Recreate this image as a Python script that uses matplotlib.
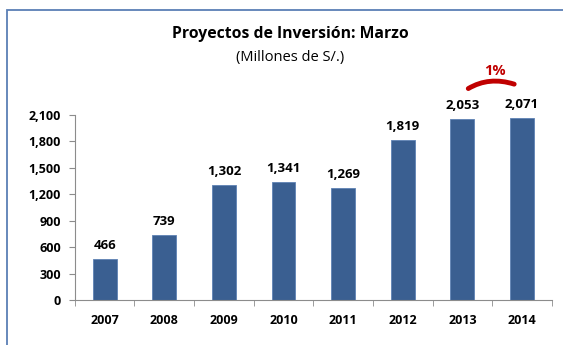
import matplotlib.pyplot as plt
from matplotlib.patches import Rectangle, PathPatch
from matplotlib.path import Path

years = ['2007', '2008', '2009', '2010', '2011', '2012', '2013', '2014']
values = [466, 739, 1302, 1341, 1269, 1819, 2053, 2071]
yticks = [0, 300, 600, 900, 1200, 1500, 1800, 2100]
growth_label = '1%'


def main():
    plt.rcParams['font.family'] = ['Open Sans', 'DejaVu Sans']

    fig = plt.figure(figsize=(5.63, 3.45), dpi=100)
    ax = fig.add_axes([0.133, 0.1304, 0.847, 0.5363])

    # outer chart frame, running off the right and bottom edges
    fig.patches.append(Rectangle((7 / 563, -0.2), 1.0, 1.2 - 10 / 345,
                                 transform=fig.transFigure, fill=False,
                                 edgecolor='#5B7FB5', linewidth=1.3))

    x = range(len(years))
    ax.bar(x, values, width=0.4, color='#3A5F91', edgecolor='#5E82B4', linewidth=0.6)

    for i, v in enumerate(values):
        ax.annotate(f'{v:,}', (i, v), xytext=(0, 5), textcoords='offset points',
                    ha='center', va='bottom', fontsize=9.5, fontweight='bold')

    ax.set_xlim(-0.5, len(years) - 0.5)
    ax.set_ylim(0, 2100)
    ax.set_yticks(yticks)
    ax.set_yticklabels([f'{t:,}' for t in yticks], fontsize=9, fontweight='bold')
    ax.set_xticks(list(x))
    ax.set_xticklabels(years, fontsize=9, fontweight='bold')
    ax.set_xticks([i - 0.5 for i in range(len(years) + 1)], minor=True)
    ax.tick_params(axis='x', which='major', length=0, pad=10)
    ax.tick_params(axis='x', which='minor', length=4, color='#8C8C8C')
    ax.tick_params(axis='y', length=4, color='#8C8C8C', pad=6)

    for side in ['top', 'right']:
        ax.spines[side].set_visible(False)
    for side in ['left', 'bottom']:
        ax.spines[side].set_color('#8C8C8C')

    # growth arc between the last two years
    arc = Path([(6.1, 2400), (6.45, 2540), (6.87, 2450)],
               [Path.MOVETO, Path.CURVE3, Path.CURVE3])
    ax.add_patch(PathPatch(arc, fill=False, edgecolor='#C00000', linewidth=3.5,
                           capstyle='round', clip_on=False))
    ax.text(6.55, 2600, growth_label, color='#C00000', fontsize=10.5,
            fontweight='bold', ha='center', va='center', clip_on=False)

    fig.text(0.515, 0.90, 'Proyectos de Inversión: Marzo', ha='center', va='center',
             fontsize=11.3, fontweight='bold')
    fig.text(0.515, 0.833, '(Millones de S/.)', ha='center', va='center', fontsize=10.5)

    fig.savefig('out.png', dpi=100)


if __name__ == '__main__':
    main()
